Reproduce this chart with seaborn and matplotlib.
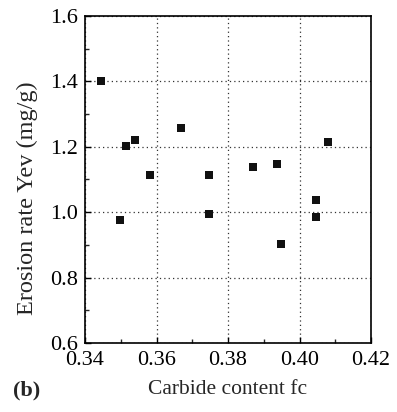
import matplotlib
matplotlib.use("Agg")
import matplotlib.pyplot as plt
import seaborn as sns
import pandas as pd
from matplotlib.ticker import MultipleLocator

carbide = [0.3444, 0.3514, 0.3540, 0.3581, 0.3669, 0.3746, 0.3870, 0.3937, 0.4081,
           0.3498, 0.3746, 0.3948, 0.4047, 0.4047]
erosion = [1.400, 1.201, 1.221, 1.113, 1.256, 1.113, 1.137, 1.146, 1.215,
           0.976, 0.993, 0.903, 1.037, 0.986]
xticks = [0.34, 0.36, 0.38, 0.40, 0.42]
yticks = [0.6, 0.8, 1.0, 1.2, 1.4, 1.6]

df = pd.DataFrame({"fc": carbide, "Yev": erosion})

sns.set_style("ticks")
plt.rcParams["font.family"] = ["Liberation Serif", "DejaVu Serif"]

fig = plt.figure(figsize=(3.97, 4.12), dpi=100)
ax = fig.add_axes([85/397, 1 - 343/412, (371 - 85)/397, (343 - 16)/412])

sns.scatterplot(data=df, x="fc", y="Yev", ax=ax, marker="s", s=36,
                color="#111111", edgecolor="#111111", linewidth=0, zorder=3)

ax.set_xlim(0.34, 0.42)
ax.set_ylim(0.6, 1.6)
ax.set_xticks(xticks)
ax.set_xticklabels([f"{v:.2f}" for v in xticks])
ax.set_yticks(yticks)
ax.set_yticklabels([f"{v:.1f}" for v in yticks])
ax.xaxis.set_minor_locator(MultipleLocator(0.01))
ax.yaxis.set_minor_locator(MultipleLocator(0.1))
ax.tick_params(which="major", direction="in", length=4, width=1, labelsize=16, colors="black")
ax.tick_params(which="minor", direction="in", length=3, width=1)
ax.tick_params(axis="x", which="major", pad=6)
ax.tick_params(axis="y", which="major", pad=5)
ax.grid(True, which="major", linestyle=(0, (1, 2.5)), color="#333333", linewidth=0.9)
for sp in ax.spines.values():
    sp.set_visible(True)
    sp.set_color("black")
    sp.set_linewidth(1.2)

ax.set_xlabel("Carbide content fc", fontsize=15.5)
ax.set_ylabel("Erosion rate Yev (mg/g)", fontsize=17.5)
ax.xaxis.label.set_va("center")
ax.yaxis.label.set_va("center")
ax.xaxis.set_label_coords(0.5, (343 - 390) / 327)
ax.yaxis.set_label_coords((27 - 85) / 286, (343 - 198) / 327)
fig.text(13/397, 1 - 390/412, "(b)", fontsize=16, fontweight="bold", va="center", ha="left")

fig.savefig("out.png", dpi=100)
